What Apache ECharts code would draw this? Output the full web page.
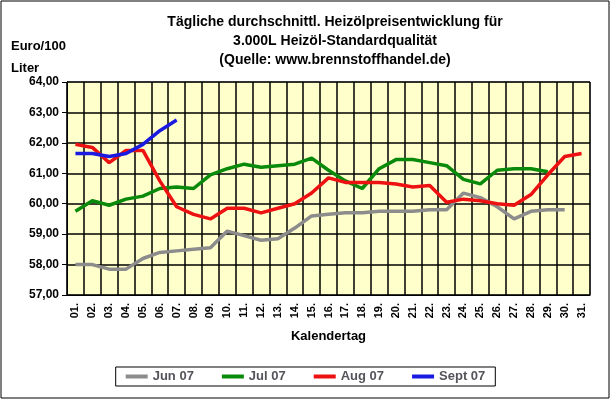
<!DOCTYPE html><html><head><meta charset="utf-8"><script src="https://cdn.jsdelivr.net/npm/echarts@6/dist/echarts.min.js"></script></head><body style="margin:0;background:#fff"><div id="c" style="width:611px;height:400px"></div><script>
const days=[];for(let i=1;i<=31;i++)days.push((i<10?'0':'')+i+'.');
const jun=[58.0,58.0,57.85,57.85,58.2,58.4,58.45,58.5,58.55,59.1,58.95,58.8,58.85,59.2,59.6,59.65,59.7,59.7,59.75,59.75,59.75,59.8,59.8,60.35,60.2,59.9,59.5,59.75,59.8,59.8];
const jul=[59.75,60.1,59.95,60.15,60.25,60.5,60.55,60.5,60.95,61.15,61.3,61.2,61.25,61.3,61.5,61.1,60.75,60.5,61.15,61.45,61.45,61.35,61.25,60.8,60.65,61.1,61.15,61.15,61.05];
const aug=[61.95,61.85,61.35,61.75,61.75,60.75,59.9,59.65,59.5,59.85,59.85,59.7,59.85,60.0,60.35,60.85,60.7,60.7,60.7,60.65,60.55,60.6,60.05,60.15,60.1,60.0,59.95,60.3,60.95,61.55,61.65];
const sep=[61.65,61.65,61.55,61.65,61.95,62.4,62.75];
const ch=echarts.init(document.getElementById('c'));
const f='Arial, Liberation Sans, sans-serif';
const s=(n,d,c)=>({name:n,type:'line',data:d,symbol:'none',lineStyle:{width:3.5,color:c},itemStyle:{color:c}});
ch.setOption({
graphic:[{type:'rect',shape:{x:1,y:1,width:608,height:397},style:{fill:'none',stroke:'#000',lineWidth:1}}],
title:[{text:'Tägliche durchschnittl. Heizölpreisentwicklung für\n3.000L Heizöl-Standardqualität\n(Quelle: www.brennstoffhandel.de)',left:330,top:8,textAlign:'center',textStyle:{fontFamily:f,fontSize:14,fontWeight:'bold',lineHeight:19,color:'#000'}},
{text:'Euro/100\nLiter',left:6,top:30,textStyle:{fontFamily:f,fontSize:13,fontWeight:'bold',lineHeight:22,color:'#000'}}],
legend:{bottom:14,left:'center',itemWidth:22,itemHeight:4,itemGap:28,icon:'rect',textStyle:{fontFamily:f,fontSize:13,fontWeight:'bold'},borderColor:'#000',borderWidth:1,padding:[3,10]},
grid:{left:67,right:21,top:82,bottom:105,containLabel:false,backgroundColor:'#ffffcc',show:true,borderColor:'#888',borderWidth:1},
xAxis:{type:'category',data:days,boundaryGap:true,name:'Kalendertag',nameLocation:'middle',nameGap:35,nameTextStyle:{fontFamily:f,fontSize:13,fontWeight:'bold',color:'#000'},axisLabel:{rotate:90,interval:0,fontFamily:f,fontSize:11,fontWeight:'bold',color:'#000'},axisLine:{lineStyle:{color:'#000'}},axisTick:{alignWithLabel:false,lineStyle:{color:'#000'}},splitLine:{show:true,interval:0,lineStyle:{color:'#000',width:1.5}}},
yAxis:{type:'value',min:57,max:64,interval:1,axisLabel:{formatter:v=>v.toFixed(2).replace('.',','),fontFamily:f,fontSize:12,fontWeight:'bold',color:'#000'},axisLine:{show:true,lineStyle:{color:'#000'}},axisTick:{show:true,lineStyle:{color:'#000'}},splitLine:{lineStyle:{color:'#000',width:1.5}}},
series:[s('Jun 07',jun,'#8c8c8c'),s('Jul 07',jul,'#0a8a0a'),s('Aug 07',aug,'#ee1111'),s('Sept 07',sep,'#1a1ae0')]
});
</script></body></html>
